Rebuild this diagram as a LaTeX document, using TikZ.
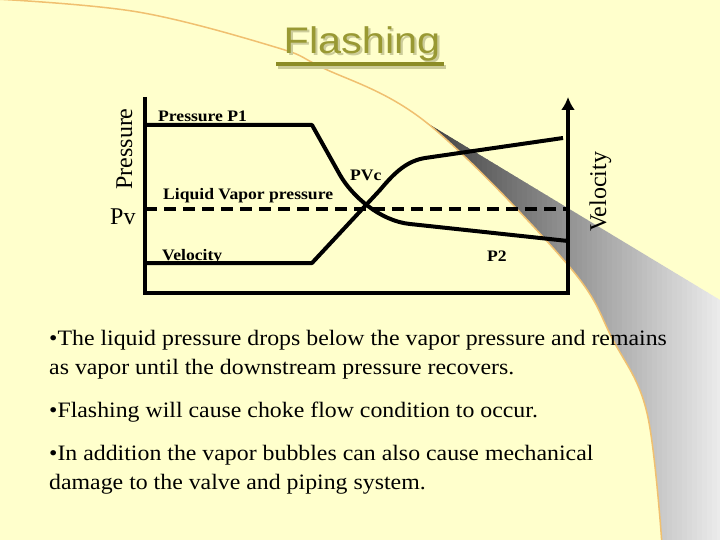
\documentclass[tikz,border=0pt]{standalone}
\usepackage{fontspec}
\setmainfont{Liberation Serif}
\newfontfamily\titlefont{Liberation Sans}
\usetikzlibrary{arrows.meta}
\definecolor{bgyellow}{HTML}{FFFFCC}
\definecolor{arcorange}{HTML}{F0C070}
\definecolor{olivetxt}{HTML}{999933}
\definecolor{oliveshadow}{HTML}{CCCC99}
\definecolor{olivedark}{HTML}{8C8C26}
\newcommand{\hsc}[1]{\scalebox{1.083}[1]{#1}}
\newcommand{\lsc}[1]{\scalebox{1.1}[1]{#1}}
\tikzset{
  curve/.style={line width=4, line join=round},
  lbl/.style={font=\fontsize{16}{16}\selectfont\bfseries, inner sep=0, anchor=base west},
  axlbl/.style={font=\fontsize{24}{24}\selectfont, inner sep=0, anchor=base},
  body/.style={font=\fontsize{22}{26}\selectfont, inner sep=0, anchor=base west},
}
\begin{document}
\begin{tikzpicture}[x=1pt,y=-1pt]
\useasboundingbox (0,0) rectangle (720,540);
\fill[bgyellow] (0,0) rectangle (720,540);
% page curl wedge
\begin{scope}
\clip plot[smooth,tension=0.6] coordinates {(-5,-1) (138,12) (275,47) (321,67) (427,123) (568,265) (613,340) (647,413) (662,545)} -- (730,545) -- (730,-5) -- cycle;
\clip (427,123) -- (720,300) -- (720,540) -- (560,540) -- cycle;
\foreach \i in {0,...,58} {
  \pgfmathsetmacro{\pct}{74-66*\i/58}
  \fill[black!\pct] ({427+5*\i},100) rectangle ({433+5*\i},545);
}
\end{scope}
\draw[arcorange, line width=1.5] plot[smooth,tension=0.6] coordinates {(-5,-1) (138,12) (275,47) (321,67) (427,123) (568,265) (613,340) (647,413) (662,545)};
% title
\node[font=\titlefont\fontsize{37}{37}\selectfont, inner sep=0, anchor=base] (title) at (362,54) {\scalebox{1.12}[1]{\makebox[0pt][l]{\hspace{2pt}\raisebox{-2pt}{\color{oliveshadow}Flashing}}\color{olivetxt}Flashing}};
\fill[oliveshadow] (278,65) rectangle (446,69);
\fill[olivedark] (276,62) rectangle (444,66);
% chart
\draw[curve] (145,125) -- (312,125) -- (340,175) .. controls (352,196) and (380,221) .. (410,224) -- (568,241);
\draw[curve] (145,263) -- (312,263) -- (380,190) .. controls (395,172) and (407,161) .. (425,158) -- (563,138);
\draw[line width=4, dash pattern=on 12pt off 7pt] (145,209) -- (568,209);
\draw[line width=4, -{Latex[length=13pt,width=14pt]}] (145,97) -- (145,293) -- (568,293) -- (568,97);
% labels
\node[lbl] (p1lbl) at (158,122) {\lsc{Pressure P1}};
\node[lbl] (liqlbl) at (163,200) {\lsc{Liquid Vapor pressure}};
\node[lbl] (vellbl) at (162,260) {\lsc{Velocity}};
\node[lbl] (pvclbl) at (350,181) {\lsc{PVc}};
\node[lbl] (p2lbl) at (487,261) {\lsc{P2}};
\node[axlbl, rotate=90] (ylbl) at (132,149) {Pressure};
\node[axlbl, anchor=base west] (pvlbl) at (110,225) {Pv};
\node[axlbl, rotate=90] (vlbl) at (606,192) {Velocity};
% bullets
\node[body] (b1a) at (49,345) {\hsc{\textbullet The liquid pressure drops below the vapor pressure and remains}};
\node[body] (b1b) at (49,374) {\hsc{as vapor until the downstream pressure recovers.}};
\node[body] (b2) at (49,417) {\hsc{\textbullet Flashing will cause choke flow condition to occur.}};
\node[body] (b3a) at (49,460) {\hsc{\textbullet In addition the vapor bubbles can also cause mechanical}};
\node[body] (b3b) at (49,489) {\hsc{damage to the valve and piping system.}};
\end{tikzpicture}
\end{document}
